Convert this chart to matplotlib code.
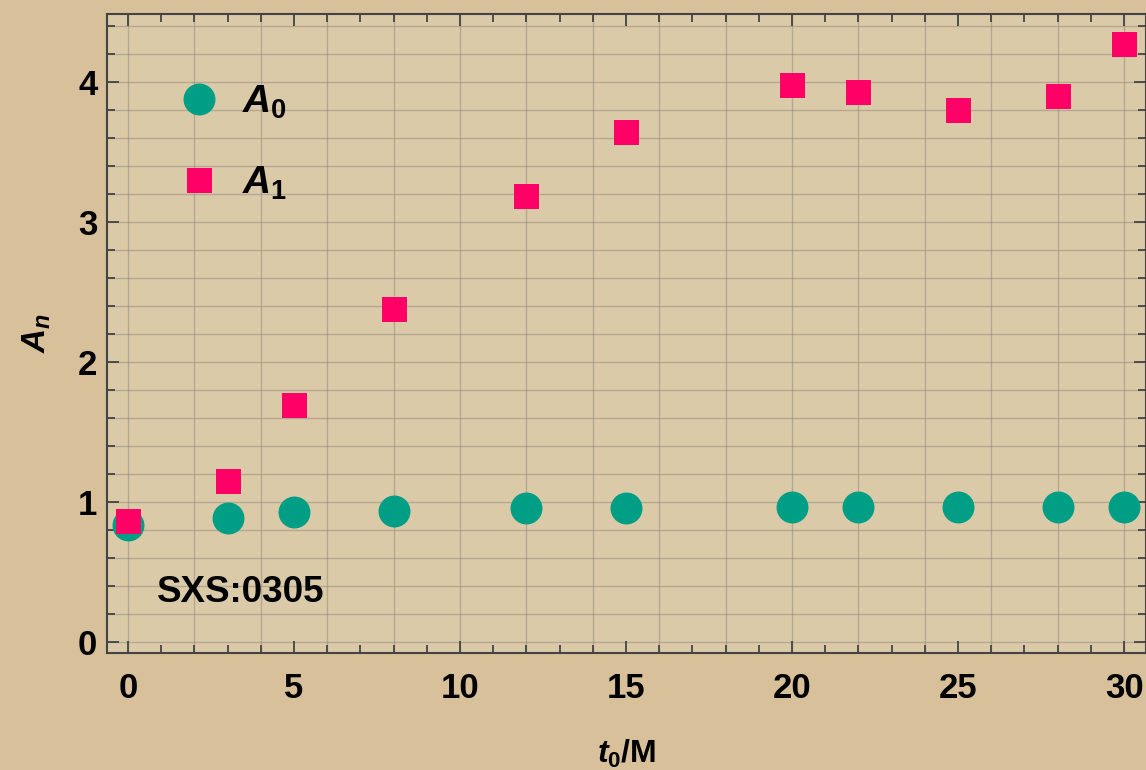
import matplotlib
matplotlib.use("Agg")
import matplotlib.pyplot as plt
from matplotlib.ticker import MultipleLocator

plt.rcParams['font.family'] = ['Liberation Sans', 'DejaVu Sans']
plt.rcParams['font.weight'] = 'bold'
plt.rcParams['mathtext.fontset'] = 'custom'
plt.rcParams['mathtext.it'] = 'Liberation Sans:bold:italic'
plt.rcParams['mathtext.rm'] = 'Liberation Sans:bold'
plt.rcParams['mathtext.bf'] = 'Liberation Sans:bold'

# Data
t0 = [0, 3, 5, 8, 12, 15, 20, 22, 25, 28, 30]
A0 = [0.836, 0.888, 0.929, 0.938, 0.957, 0.958, 0.962, 0.962, 0.961, 0.960, 0.960]
A1 = [0.866, 1.148, 1.693, 2.379, 3.186, 3.643, 3.976, 3.926, 3.798, 3.898, 4.269]
x_ticks = [0, 5, 10, 15, 20, 25, 30]
y_ticks = [0, 1, 2, 3, 4]

c0 = '#009e85'
c1 = '#ff0066'
bg_fig = '#d7c09a'
bg_ax = '#dbcaa8'

fig = plt.figure(figsize=(11.46, 7.7), dpi=100, facecolor=bg_fig)
ax = fig.add_axes([107/1146, 1 - 653/770, (1146 - 107)/1146, (653 - 13.5)/770])
ax.set_facecolor(bg_ax)

ax.plot(t0, A0, linestyle='none', marker='o', markersize=23, color=c0,
        markeredgewidth=0, label=r'$A_0$', zorder=3)
ax.plot(t0, A1, linestyle='none', marker='s', markersize=18, color=c1,
        markeredgewidth=0, label=r'$A_1$', zorder=4)

ax.set_xlim(-0.63, 30.66)
ax.set_ylim(-0.08, 4.49)
ax.set_xticks(x_ticks)
ax.set_yticks(y_ticks)
ax.xaxis.set_minor_locator(MultipleLocator(1))
ax.yaxis.set_minor_locator(MultipleLocator(0.2))

# grid lines: every 2 in x, every 0.2 in y
for xv in range(0, 31, 2):
    ax.axvline(xv, color='#8f877c', lw=1.0, alpha=0.5, zorder=1)
for k in range(0, 23):
    ax.axhline(k * 0.2, color='#8f877c', lw=1.0, alpha=0.5, zorder=1)

ax.tick_params(which='both', direction='in', top=True, right=True,
               color='#444444', labelsize=25, width=1.3)
ax.tick_params(which='major', length=8.6)
ax.tick_params(which='minor', length=5.5)
ax.tick_params(axis='x', which='major', pad=14)
ax.tick_params(axis='y', which='major', pad=7)
for lab in ax.get_xticklabels() + ax.get_yticklabels():
    lab.set_fontweight('bold')
for sp in ax.spines.values():
    sp.set_color('#444444')
    sp.set_linewidth(1.5)

ax.set_xlabel(r'$t_0$/M', fontsize=23, fontweight='bold')
ax.set_ylabel(r'$A_n$', fontsize=24, fontweight='bold')
ax.xaxis.set_label_coords(0.5, -0.132)
ax.yaxis.set_label_coords(-0.052, 0.5)

ax.text((157 - 107) / 1039, (653 - 592) / 639.5, 'SXS:0305', fontsize=26.5,
        fontweight='bold', transform=ax.transAxes, va='center', ha='left')

leg = ax.legend(loc='upper left', bbox_to_anchor=(0.055, 0.915), frameon=False,
                fontsize=28, labelspacing=1.13, handletextpad=0.6,
                borderaxespad=0, handlelength=1.0)

fig.savefig('out.png', dpi=100, facecolor=bg_fig)
